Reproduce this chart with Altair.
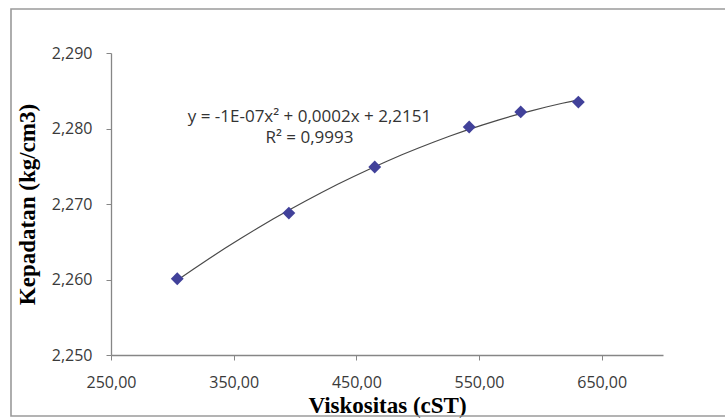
import altair as alt
import pandas as pd

# Viscosity (cST) against density (kg/cm3)
viskositas = [304, 395, 465, 542, 584, 631]
kepadatan = [2.2601, 2.2688, 2.2749, 2.2802, 2.2822, 2.2835]

x_ticks = [250, 350, 450, 550, 650]
y_ticks = [2.25, 2.26, 2.27, 2.28, 2.29]

persamaan = ["y = -1E-07x\u00b2 + 0,0002x + 2,2151", "R\u00b2 = 0,9993"]

df = pd.DataFrame({"visk": viskositas, "dens": kepadatan})

AXIS_GREY = "#868686"
LABEL_GREY = "#3a3a3a"

x_enc = alt.X(
    "visk:Q",
    scale=alt.Scale(domain=[250, 700], nice=False, zero=False),
    axis=alt.Axis(
        title="Viskositas (cST)",
        values=x_ticks,
        labelExpr="replace(format(datum.value, '.2f'), '.', ',')",
        titleFont="Liberation Serif",
        titleFontWeight="bold",
        titleFontSize=23,
        titleColor="#000000",
        titleBaseline="alphabetic",
        titleY=57,
        labelPadding=14,
        labelFlush=False,
    ),
)
y_enc = alt.Y(
    "dens:Q",
    scale=alt.Scale(domain=[2.25, 2.29], nice=False, zero=False),
    axis=alt.Axis(
        title="Kepadatan (kg/cm3)",
        values=y_ticks,
        labelExpr="replace(format(datum.value, '.3f'), '.', ',')",
        titleFont="Liberation Serif",
        titleFontWeight="bold",
        titleFontSize=23,
        titleColor="#000000",
        titleAngle=-90,
        titleAlign="center",
        titleBaseline="middle",
        titleX=-84,
        titleY=151,
        labelPadding=14,
        labelFlush=False,
    ),
)

base = alt.Chart(df)

trend = base.transform_regression(
    "visk", "dens", method="poly", order=2
).mark_line(color="#4a4a4a", strokeWidth=1.2).encode(x=x_enc, y=y_enc)

points = base.mark_point(
    shape="diamond", filled=True, size=165, color="#41419a", opacity=1
).encode(x="visk:Q", y="dens:Q")

# trendline equation, two centred lines
label = alt.Chart(pd.DataFrame({"t": [0]})).mark_text(
    font="Open Sans",
    fontSize=17,
    color="#333333",
    align="center",
    baseline="alphabetic",
    lineHeight=21,
).encode(
    x=alt.datum(411.8),
    y=alt.datum(2.2808),
    text=alt.value(persamaan),
)

frame = alt.Chart(pd.DataFrame({"t": [0]})).mark_rect(
    fillOpacity=0, stroke="#9a9a9a", strokeWidth=1.6
).encode(
    x=alt.value(-100), x2=alt.value(640), y=alt.value(-44), y2=alt.value(363)
)

chart = (
    alt.layer(frame, trend, points, label)
    .properties(
        width=552,
        height=302,
        autosize=alt.AutoSizeParams(type="none"),
        padding={"left": 111, "top": 53, "right": 62, "bottom": 64},
        background="white",
    )
    .configure_view(stroke=None)
    .configure_axis(
        grid=False,
        domainColor=AXIS_GREY,
        domainWidth=1.3,
        tickColor=AXIS_GREY,
        tickSize=5,
        labelFont="Open Sans",
        labelFontSize=16,
        labelColor=LABEL_GREY,
    )
)

chart.save("out.html", embed_options={"renderer": "svg", "actions": False})
